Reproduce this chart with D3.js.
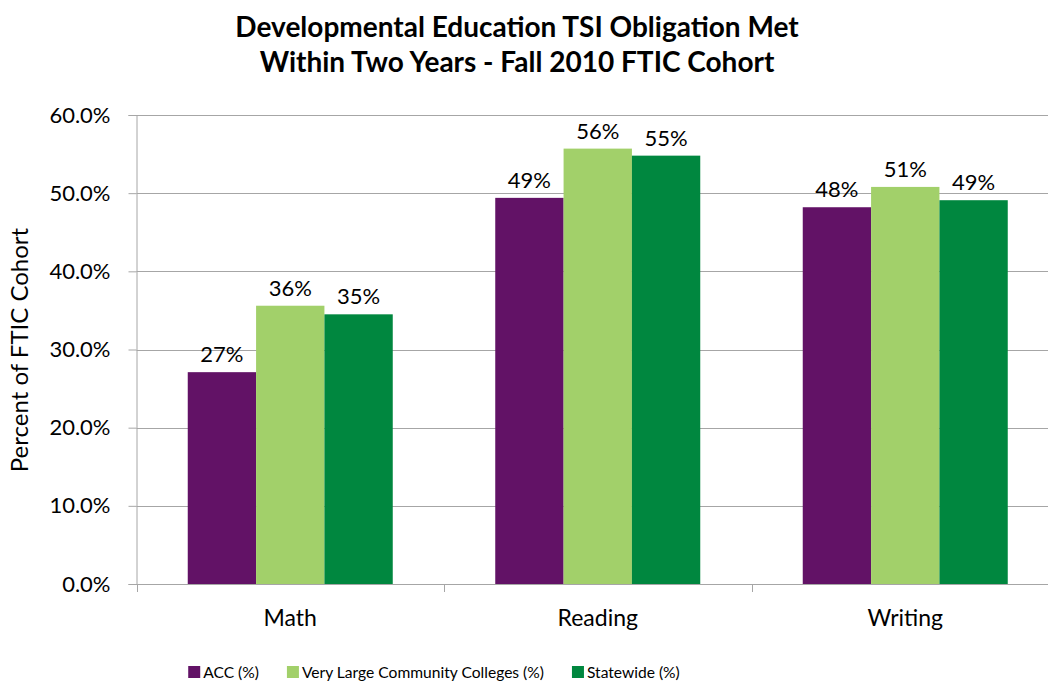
<!DOCTYPE html>
<html>
<head>
<meta charset="utf-8">
<script src="https://cdn.jsdelivr.net/npm/d3@7"></script>
<style>
  html, body { margin: 0; padding: 0; background: #fff; }
  svg { display: block; font-family: Lato, "Open Sans", sans-serif; }
</style>
</head>
<body>
<svg id="chart" width="1048" height="683"></svg>
<script>
// Categories, series and tick labels
const categories = ["Math", "Reading", "Writing"];
const seriesNames = ["ACC (%)", "Very Large Community Colleges (%)", "Statewide (%)"];
const accValues = [27.1, 49.4, 48.2];
const vlccValues = [35.6, 55.7, 50.8];
const statewideValues = [34.5, 54.8, 49.1];
const yTicks = [0, 10, 20, 30, 40, 50, 60];
const seriesColors = ["#621266", "#A2D06A", "#00873F"];

const series = [accValues, vlccValues, statewideValues].map((vals, i) => ({
  name: seriesNames[i], color: seriesColors[i], values: vals
}));

const svg = d3.select("#chart");
const plotLeft = 136.5, plotRight = 1059, plotTop = 115, plotBottom = 584;

const x = d3.scaleBand().domain(categories).range([plotLeft, plotRight]).paddingInner(0).paddingOuter(0);
// three bars per category, with half a gap (0.75 bar widths) on each side
const inner = d3.scaleBand().domain(d3.range(series.length))
  .range([0, x.bandwidth()]).paddingInner(0).paddingOuter(0.75);
const y = d3.scaleLinear().domain([0, 60]).range([plotBottom, plotTop]);

// Gridlines
svg.append("g")
  .selectAll("line").data(yTicks.filter(t => t > 0)).join("line")
  .attr("x1", plotLeft).attr("x2", plotRight)
  .attr("y1", d => Math.round(y(d)) + 0.5).attr("y2", d => Math.round(y(d)) + 0.5)
  .attr("stroke", "#a6a6a6").attr("stroke-width", 1);

// Y axis
const yAxis = svg.append("g").attr("transform", `translate(${plotLeft},0)`)
  .call(d3.axisLeft(y).tickValues(yTicks).tickSize(8).tickPadding(18)
    .tickFormat(d => d.toFixed(1) + "%"));
yAxis.select(".domain").attr("stroke", "#a6a6a6");
yAxis.selectAll(".tick line").attr("stroke", "#a6a6a6");
yAxis.selectAll("text").attr("font-size", 22).attr("fill", "#000")
  .style("font-family", "Lato, 'Open Sans', sans-serif");

// Bars
const groups = svg.append("g").selectAll("g").data(categories).join("g")
  .attr("transform", c => `translate(${x(c)},0)`);

series.forEach((s, si) => {
  groups.append("rect")
    .attr("x", () => inner(si))
    .attr("width", inner.bandwidth())
    .attr("y", (c, ci) => y(s.values[ci]))
    .attr("height", (c, ci) => plotBottom - y(s.values[ci]))
    .attr("fill", s.color);
  groups.append("text")
    .attr("x", () => inner(si) + inner.bandwidth() / 2)
    .attr("y", (c, ci) => y(s.values[ci]) - 10)
    .attr("text-anchor", "middle")
    .attr("font-size", 22)
    .attr("fill", "#000")
    .text((c, ci) => Math.round(s.values[ci]) + "%");
});

// X axis
const xAxis = svg.append("g").attr("transform", `translate(0,${plotBottom})`);
xAxis.append("line").attr("x1", plotLeft).attr("x2", plotRight).attr("y1", 0.5).attr("y2", 0.5)
  .attr("stroke", "#a6a6a6");
xAxis.selectAll("line.tick").data(categories).join("line").attr("class", "tick")
  .attr("x1", c => Math.round(x(c)) + 0.5).attr("x2", c => Math.round(x(c)) + 0.5)
  .attr("y1", 0).attr("y2", 8).attr("stroke", "#a6a6a6");
xAxis.selectAll("text").data(categories).join("text")
  .attr("x", c => x(c) + x.bandwidth() / 2).attr("y", 42)
  .attr("text-anchor", "middle").attr("font-size", 23).attr("fill", "#000")
  .text(c => c);

// Y axis title
svg.append("text")
  .attr("transform", "translate(28,350) rotate(-90)")
  .attr("text-anchor", "middle").attr("font-size", 24).attr("fill", "#000")
  .text("Percent of FTIC Cohort");

// Title
const title = svg.append("text").attr("text-anchor", "middle")
  .attr("font-size", 28).attr("font-weight", "bold").attr("fill", "#000");
title.append("tspan").attr("x", 517).attr("y", 37).text("Developmental Education TSI Obligation Met");
title.append("tspan").attr("x", 517).attr("y", 72).text("Within Two Years - Fall 2010 FTIC Cohort");

// Legend: items laid out from their measured widths, centred under the chart
const legendCenter = 434, swatch = 12, swatchGap = 3, itemGap = 28;
const legend = svg.append("g");
const items = legend.selectAll("g").data(series).join("g");
items.append("rect").attr("width", swatch).attr("height", swatch).attr("fill", d => d.color);
items.append("text").attr("x", swatch + swatchGap).attr("y", 12)
  .attr("font-size", 15.6).attr("fill", "#000").text(d => d.name);
const widths = [];
items.each(function () {
  widths.push(swatch + swatchGap + d3.select(this).select("text").node().getComputedTextLength());
});
const total = d3.sum(widths) + itemGap * (widths.length - 1);
let cursor = legendCenter - total / 2;
items.attr("transform", (d, i) => {
  const t = `translate(${cursor},666)`;
  cursor += widths[i] + itemGap;
  return t;
});
</script>
</body>
</html>
